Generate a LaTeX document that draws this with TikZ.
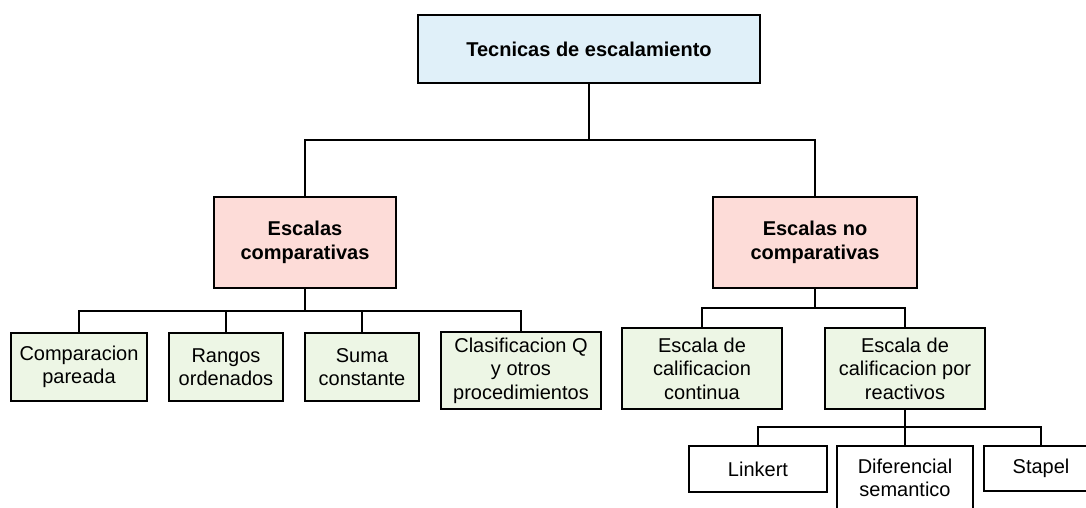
\documentclass[tikz,border=0pt]{standalone}
\usepackage{fontspec}
\setmainfont{Liberation Sans}
\definecolor{topblue}{HTML}{E0F0F9}
\definecolor{midpink}{HTML}{FDDCD8}
\definecolor{leafgreen}{HTML}{EDF6E5}
\begin{document}
\begin{tikzpicture}[x=1pt,y=-1pt,
  box/.style={draw=black,line width=2pt,rectangle,inner sep=0pt,align=center,
    font=\fontsize{20}{23.5}\selectfont},
  topbox/.style={box,fill=topblue,font=\fontsize{20}{23.5}\selectfont\bfseries},
  midbox/.style={box,fill=midpink,font=\fontsize{20}{23.5}\selectfont\bfseries},
  leafbox/.style={box,fill=leafgreen},
  plainbox/.style={box,fill=white},
  conn/.style={draw=black,line width=2pt}]
\fill[white] (0,0) rectangle (1086,508);
\useasboundingbox (0,0) rectangle (1086,508);

\node[topbox,minimum width=342pt,minimum height=68pt] (top) at (589,49) {Tecnicas de escalamiento};
\node[midbox,minimum width=182pt,minimum height=91pt] (lc) at (305,242.5) {Escalas\\comparativas};
\node[midbox,minimum width=204pt,minimum height=91pt] (rc) at (815,242.5) {Escalas no\\comparativas};

\node[leafbox,minimum width=136pt,minimum height=68pt] (c1) at (79,367) {Comparacion\\pareada};
\node[leafbox,minimum width=114pt,minimum height=68pt] (c2) at (226,367) {Rangos\\ordenados};
\node[leafbox,minimum width=114pt,minimum height=68pt] (c3) at (362,367) {Suma\\constante};
\node[leafbox,minimum width=160pt,minimum height=77pt] (c4) at (521,370.5) {Clasificacion Q\\y otros\\procedimientos};

\node[leafbox,minimum width=160pt,minimum height=81pt] (r1) at (702,368.5) {Escala de\\calificacion\\continua};
\node[leafbox,minimum width=160pt,minimum height=81pt] (r2) at (905,368.5) {Escala de\\calificacion por\\reactivos};

\node[plainbox,minimum width=138pt,minimum height=46pt] (b1) at (758,469) {Linkert};
\node[plainbox,minimum width=136pt,minimum height=64pt] (b2) at (905,478) {Diferencial\\semantico};
\node[plainbox,minimum width=114pt,minimum height=45pt] (b3) at (1041,468.5) {Stapel};

\coordinate (j0) at (589,140);
\coordinate (j1) at (305,311);
\coordinate (j2) at (815,308);
\coordinate (j3) at (905,427);

\draw[conn] (top.south) -- (j0);
\draw[conn] (lc.north) |- (j0) -| (rc.north);
\draw[conn] (lc.south) -- (j1);
\draw[conn] (c1.north) |- (j1) -| (c4.north);
\draw[conn] (c2.north) -- (c2.north |- j1);
\draw[conn] (c3.north) -- (c3.north |- j1);
\draw[conn] (rc.south) -- (j2);
\draw[conn] (r1.north) |- (j2) -| (r2.north);
\draw[conn] (r2.south) -- (j3);
\draw[conn] (b1.north) |- (j3) -| (b3.north);
\draw[conn] (b2.north) -- (j3);
\end{tikzpicture}
\end{document}
